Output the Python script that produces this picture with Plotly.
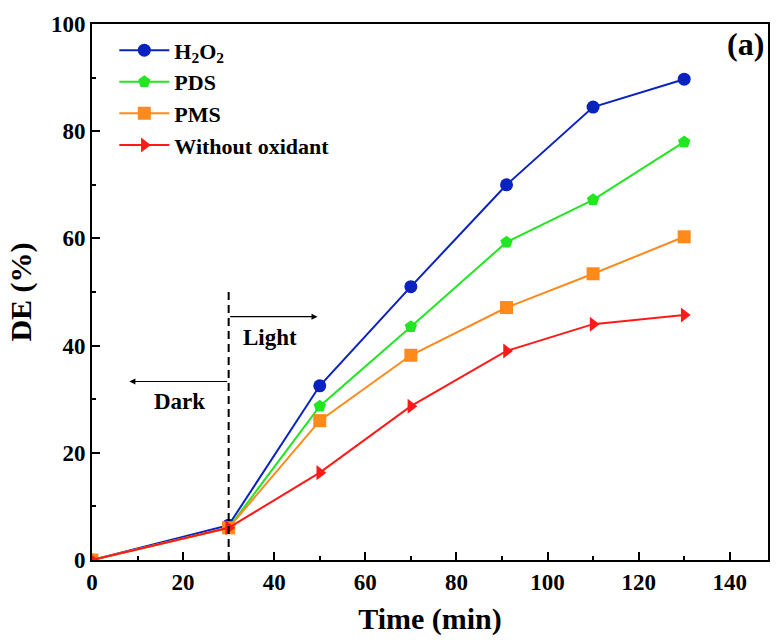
import plotly.graph_objects as go

time = [0, 30, 50, 70, 91, 110, 130]
h2o2 = [0, 6.5, 32.5, 51.0, 70.0, 84.5, 89.7]
pds = [0, 6.0, 28.7, 43.5, 59.3, 67.2, 78.0]
pms = [0, 6.0, 26.0, 38.2, 47.1, 53.4, 60.3]
without = [0, 6.0, 16.3, 28.7, 39.0, 44.0, 45.7]

names = ["H<sub>2</sub>O<sub>2</sub>", "PDS", "PMS", "Without oxidant"]
series = [h2o2, pds, pms, without]
colors = ["#0A22C0", "#22E622", "#FF8A1C", "#FF1A1A"]
symbols = ["circle", "pentagon", "square", "triangle-right"]

xticks = [0, 20, 40, 60, 80, 100, 120, 140]
yticks = [0, 20, 40, 60, 80, 100]

FONT = "Liberation Serif"

fig = go.Figure()
for i, (n, s, c, m) in enumerate(zip(names, series, colors, symbols)):
    fig.add_trace(go.Scatter(
        x=time, y=s, name="<b>" + n + "</b>", mode="lines+markers",
        line=dict(color=c, width=2),
        marker=dict(symbol=m, size=13, color=c),
        legendgroup=str(i),
    ))

# dashed separator line
fig.add_trace(go.Scatter(x=[30, 30], y=[0, 50.5], mode="lines",
                         line=dict(color="black", width=2, dash="8px,5px"),
                         showlegend=False, hoverinfo="skip"))

fig.add_annotation(x=49.5, y=45.4, ax=30, ay=45.4, xref="x", yref="y",
                   axref="x", ayref="y", showarrow=True, arrowhead=2,
                   arrowsize=1, arrowwidth=1.2, arrowcolor="black", text="")
fig.add_annotation(x=8.2, y=33.3, ax=30, ay=33.3, xref="x", yref="y",
                   axref="x", ayref="y", showarrow=True, arrowhead=2,
                   arrowsize=1, arrowwidth=1.2, arrowcolor="black", text="")
fig.add_annotation(x=39.0, y=41.6, text="<b>Light</b>", showarrow=False,
                   font=dict(family=FONT, size=23, color="black"))
fig.add_annotation(x=19.3, y=29.5, text="<b>Dark</b>", showarrow=False,
                   font=dict(family=FONT, size=23, color="black"))
fig.add_annotation(x=1, y=1, xref="paper", yref="paper", xanchor="right",
                   yanchor="top", xshift=-2, yshift=0, text="<b>(a)</b>",
                   showarrow=False, font=dict(family=FONT, size=32, color="black"))

axis_common = dict(
    showline=True, linecolor="black", linewidth=2, mirror=True,
    ticks="inside", ticklen=8, tickwidth=2, tickcolor="black",
    showgrid=False, zeroline=False,
    tickfont=dict(family=FONT, size=23, color="black"),
)

fig.update_xaxes(range=[0, 148.4], tickvals=xticks,
                 ticktext=["<b>%d</b>" % v for v in xticks],
                 minor=dict(ticks="inside", ticklen=4, tickwidth=2, dtick=10, tickcolor="black", tick0=0),
                 title=dict(text="<b>Time (min)</b>", font=dict(family=FONT, size=30, color="black"), standoff=14),
                 **axis_common)
fig.update_yaxes(range=[0, 100], tickvals=yticks,
                 ticktext=["<b>%d</b>" % v for v in yticks],
                 minor=dict(ticks="inside", ticklen=4, tickwidth=2, dtick=10, tickcolor="black", tick0=0),
                 title=dict(text="<b>DE (%)</b>", font=dict(family=FONT, size=30, color="black"), standoff=10),
                 **axis_common)

fig.update_layout(
    width=779, height=644,
    margin=dict(l=92, r=9, t=24, b=84),
    plot_bgcolor="white", paper_bgcolor="white",
    font=dict(family=FONT, color="black"),
    legend=dict(x=0.033, y=0.99, xanchor="left", yanchor="top",
                font=dict(family=FONT, size=22, color="black"),
                bgcolor="rgba(0,0,0,0)", tracegroupgap=0,
                itemwidth=50),
    showlegend=True,
)

fig.write_html("out.html")
